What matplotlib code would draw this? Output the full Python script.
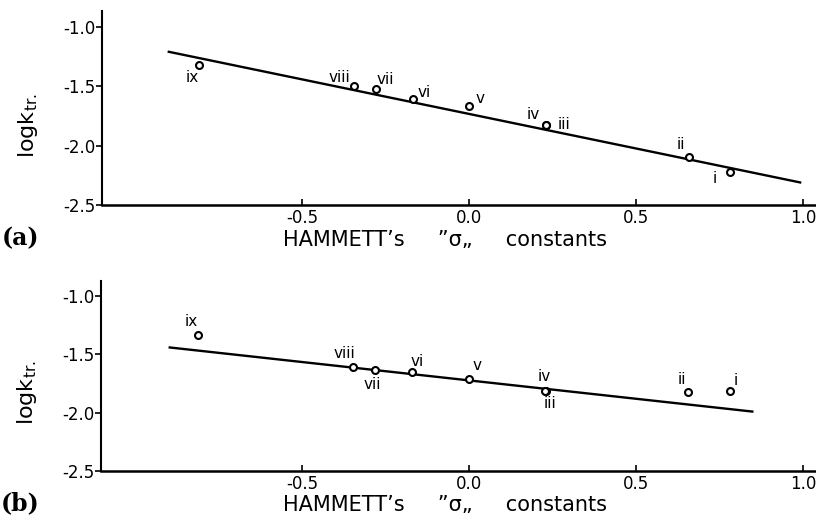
import matplotlib
matplotlib.use("Agg")
import matplotlib.pyplot as plt

plt.rcParams['axes.unicode_minus'] = False
plt.rcParams['font.family'] = ['DejaVu Sans']

# substituent labels and Hammett sigma values
labels = ['i', 'ii', 'iii', 'iv', 'v', 'vi', 'vii', 'viii', 'ix']
sigma = [0.78, 0.656, 0.23, 0.228, 0.0, -0.17, -0.28, -0.347, -0.81]

# (a) log k_tr values and fitted line
logk_a = [-2.22, -2.10, -1.83, -1.83, -1.67, -1.61, -1.52, -1.50, -1.32]
fit_a_x = [-0.90, 0.99]
fit_a_y = [-1.21, -2.31]

# (b) log k_tr values and fitted line
logk_b = [-1.81, -1.82, -1.81, -1.81, -1.71, -1.65, -1.63, -1.61, -1.33]
fit_b_x = [-0.895, 0.847]
fit_b_y = [-1.44, -1.99]

# label offsets in pixels (dx, dy)
offs_a = [(-15, -7), (-8, 13), (18, 1), (-12, 11), (11, 8), (12, 7), (9, 9), (-14, 9), (-7, -13)]
offs_b = [(6, 10), (-7, 12), (4, -13), (-1, 14), (8, 13), (5, 10), (-3, -15), (-9, 14), (-7, 13)]

xticks = [-0.5, 0.0, 0.5, 1.0]
yticks = [-1.0, -1.5, -2.0, -2.5]

fig = plt.figure(figsize=(8.16, 5.19), dpi=100)
ax_a = fig.add_axes([0.125, 0.605, 0.874, 0.373])
ax_b = fig.add_axes([0.124, 0.0925, 0.875, 0.366])


def draw(ax, y, fx, fy, offs, tag, lab_y):
    ax.plot(fx, fy, color='black', lw=1.7, zorder=2)
    ax.plot(sigma, y, 'o', mfc='white', mec='black', mew=1.5, ms=5, zorder=3)
    for lab, xv, yv, (dx, dy) in zip(labels, sigma, y, offs):
        ax.annotate(lab, (xv, yv), xytext=(dx, dy), textcoords='offset pixels',
                    ha='center', va='center', fontsize=11)
    ax.set_xlim(-1.1, 1.035)
    ax.set_ylim(-2.5, -0.87)
    ax.set_xticks(xticks)
    ax.set_xticklabels(['%.1f' % t for t in xticks])
    ax.set_yticks(yticks)
    ax.set_yticklabels(['-%.1f' % abs(t) for t in yticks])
    ax.spines['top'].set_visible(False)
    ax.spines['right'].set_visible(False)
    ax.spines['left'].set_linewidth(1.5)
    ax.spines['bottom'].set_linewidth(1.8)
    ax.tick_params(axis='x', direction='in', length=4, width=1.2, pad=3, labelsize=12)
    ax.tick_params(axis='y', direction='out', length=4, width=1.2, pad=1, labelsize=12)
    ax.set_xlabel('HAMMETT\u2019s     \u201d\u03c3\u201e     constants', fontsize=15)
    ax.xaxis.label.set_va('center')
    ax.xaxis.set_label_coords(0.481, lab_y)
    ax.set_ylabel('logk$_{\\mathregular{tr.}}$', fontsize=16)
    ax.yaxis.set_label_coords(-0.087, 0.41)
    ax.text(-0.14, lab_y + 0.01, tag, transform=ax.transAxes, fontsize=17, fontweight='bold',
            family='DejaVu Serif', ha='left', va='center')


draw(ax_a, logk_a, fit_a_x, fit_a_y, offs_a, '(a)', -0.183)
draw(ax_b, logk_b, fit_b_x, fit_b_y, offs_b, '(b)', -0.18)

fig.savefig('out.png', dpi=100)
